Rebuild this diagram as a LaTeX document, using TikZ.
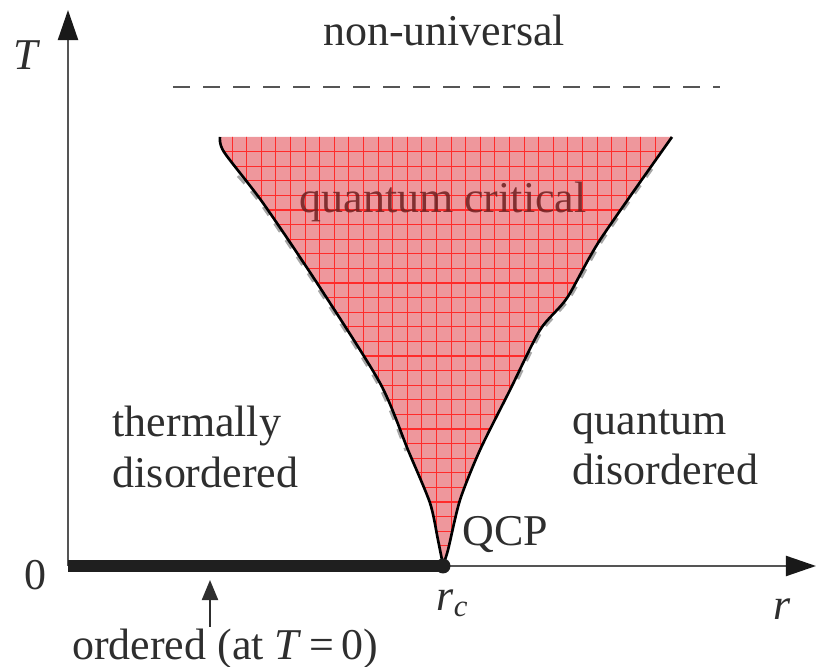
\documentclass[tikz,border=0pt]{standalone}
\usepackage{fontspec}
\setmainfont{Liberation Serif}
\usetikzlibrary{arrows.meta}
\definecolor{ink}{HTML}{2E2E2E}
\definecolor{axisg}{HTML}{555555}
\definecolor{qcfill}{HTML}{EE979C}
\definecolor{qcgrid}{HTML}{FF2B2B}
\definecolor{qctext}{HTML}{6E1F1F}

\begin{document}
\begin{tikzpicture}[x=0.01cm,y=-0.01cm,
  font=\fontsize{12.5}{14.3}\selectfont,
  lbl/.style={text=ink,inner sep=0pt},
  axis/.style={axisg,line width=0.6pt,-{Triangle[length=0.3cm,width=0.2cm,color=black!90]}},
  ordline/.style={black!88,line width=3.3pt},
  qcpdot/.style={circle,fill=black!88,minimum size=0.15cm,inner sep=0pt},
  edge/.style={black,line width=0.75pt},
  ghost/.style={black!35,line width=0.8pt,dash pattern=on 0.1cm off 0.1cm},
  cross/.style={axisg,line width=0.75pt,dash pattern=on 0.167cm off 0.133cm},
  gridl/.style={qcgrid,line width=0.3pt},
  pointer/.style={ink,line width=0.6pt,-{Triangle[length=0.2cm,width=0.16cm]}},
]
\useasboundingbox (0,0) rectangle (817,667);

% axes
\coordinate (O)    at (68,566);
\coordinate (Ttop) at (68,10);
\coordinate (rend) at (816,566);
\coordinate (qcp)  at (443,566);
\draw[axis] (O)--(Ttop);
\draw[axis] (O)--(rend);

% quantum critical fan, filled and gridded
\path[fill=qcfill,save path=\qcpath]
  plot[smooth,tension=0.45] coordinates {(220,137) (224,152) (263,203)
    (317,283) (380,383) (408,450) (430,503) (438,540) (443,565)}
  -- plot[smooth,tension=0.45] coordinates {(443,565) (448,550) (460,500)
    (480,450) (510,390) (540,330) (567,298) (600,240) (672,137)} -- cycle;
\begin{scope}
  \clip[use path=\qcpath];
  \foreach \gx in {0,...,31} \draw[gridl] (217.5+14.6*\gx,130)--++(0,440);
  \foreach \gy in {1,...,30} \draw[gridl] (210,137+14.6*\gy)--++(470,0);
\end{scope}

% crossover lines (grey) and the fan edges
\draw[ghost,shift={(-2,1)}] plot[smooth,tension=0.45] coordinates {(240,175)
  (263,203) (317,283) (380,383) (408,450)};
\draw[ghost,shift={(2,1)}] plot[smooth,tension=0.45] coordinates {(650,168)
  (600,240) (567,298) (540,330) (515,380)};
\draw[edge] plot[smooth,tension=0.45] coordinates {(220,137) (224,152)
  (263,203) (317,283) (380,383) (408,450) (430,503) (438,540) (443,565)};
\draw[edge] plot[smooth,tension=0.45] coordinates {(443,565) (448,550)
  (460,500) (480,450) (510,390) (540,330) (567,298) (600,240) (672,137)};

% ordered line at T=0 and the critical point
\draw[ordline] (O)--(qcp);
\node[qcpdot] (qcpdot) at (qcp) {};

% upper crossover
\coordinate (dashl) at (173,87);
\coordinate (dashr) at (720,87);
\draw[cross] (dashl)--(dashr);

% labels
\node[lbl] (tlab)  at (27,55)  {\textit{T}};
\node[lbl] (zlab)  at (35,575) {0};
\node[lbl] (rlab)  at (782,609) {\textit{r}};
\node[lbl] (rclab) at (453,603) {\textit{r}\textsubscript{\textit{c}}};
\node[lbl,anchor=base west] (qcplab) at (462,546) {QCP};
\node[lbl] (nonuni) at (444,30) {non-universal};
\node[lbl,text=qctext,opacity=0.85] (qclab) at (443,202) {quantum critical};
\node[lbl,anchor=west,align=left] (thdis) at (112,447) {thermally\\disordered};
\node[lbl,anchor=west,align=left] (qudis) at (572,447) {quantum\\disordered};
\node[lbl,anchor=base] (ordlab) at (225,660) {ordered (at \textit{T}\,=\,0)};

% pointer to the ordered line
\coordinate (ordtail) at (210,627);
\coordinate (ordtip)  at (210,580);
\draw[pointer] (ordtail)--(ordtip);
\end{tikzpicture}
\end{document}
